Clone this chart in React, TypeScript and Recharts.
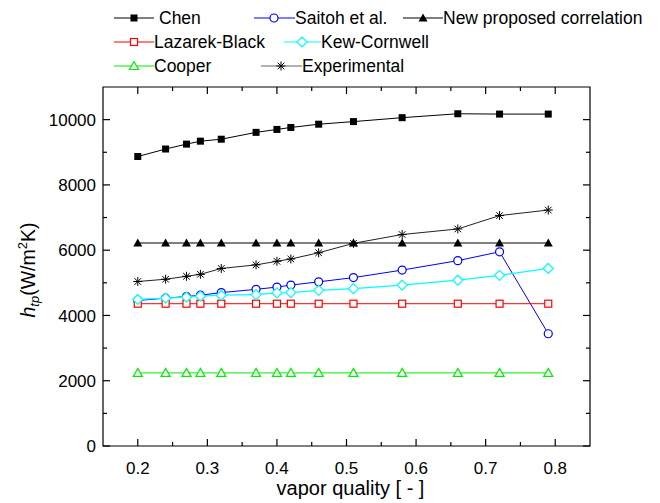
import { LineChart, Line, XAxis, YAxis, ReferenceLine, ReferenceArea } from 'recharts';

// vapor quality values (x) and heat transfer coefficients (W/m2K)
const quality = [0.2, 0.24, 0.27, 0.29, 0.32, 0.37, 0.4, 0.42, 0.46, 0.51, 0.58, 0.66, 0.72, 0.79];
const chen = [8870, 9100, 9250, 9340, 9400, 9610, 9700, 9760, 9860, 9940, 10060, 10180, 10170, 10170];
const saitoh = [4460, 4530, 4580, 4620, 4700, 4800, 4870, 4930, 5030, 5160, 5390, 5680, 5950, 3440];
const newProposed = [6220, 6220, 6220, 6220, 6220, 6220, 6220, 6220, 6220, 6220, 6220, 6220, 6220, 6220];
const lazarekBlack = [4360, 4360, 4360, 4360, 4360, 4360, 4360, 4360, 4360, 4360, 4360, 4360, 4360, 4360];
const kewCornwell = [4490, 4530, 4560, 4590, 4620, 4640, 4690, 4700, 4770, 4820, 4930, 5080, 5230, 5440];
const cooper = [2240, 2240, 2240, 2240, 2240, 2240, 2240, 2240, 2240, 2240, 2240, 2240, 2240, 2240];
const experimental = [5040, 5110, 5200, 5260, 5440, 5550, 5660, 5730, 5920, 6210, 6480, 6650, 7060, 7230];

// ticks
const xMajorTicks = [0.2, 0.3, 0.4, 0.5, 0.6, 0.7, 0.8];
const xTickLabels = ['0.2', '0.3', '0.4', '0.5', '0.6', '0.7', '0.8'];
const xMinorTicks = [0.25, 0.35, 0.45, 0.55, 0.65, 0.75];
const yMajorTicks = [0, 2000, 4000, 6000, 8000, 10000];
const yTickLabels = ['0', '2000', '4000', '6000', '8000', '10000'];
const yMinorTicks = [1000, 3000, 5000, 7000, 9000];

const X_DOMAIN = [0.15, 0.85];
const Y_DOMAIN = [0, 11000];

const data = quality.map((q, i) => ({
  q,
  chen: chen[i],
  saitoh: saitoh[i],
  newProposed: newProposed[i],
  lazarekBlack: lazarekBlack[i],
  kewCornwell: kewCornwell[i],
  cooper: cooper[i],
  experimental: experimental[i],
}));

const FONT = '"Liberation Sans", Arial, sans-serif';
const MAJOR = 7;
const MINOR = 4;

type Marker = 'squareFilled' | 'circleOpen' | 'triangleFilled' | 'squareOpen' | 'diamondOpen' | 'triangleOpen' | 'asterisk';

const series: { key: string; name: string; color: string; lineColor: string; width: number; marker: Marker }[] = [
  { key: 'chen', name: 'Chen', color: '#000000', lineColor: '#000000', width: 1, marker: 'squareFilled' },
  { key: 'saitoh', name: 'Saitoh et al.', color: '#0000ff', lineColor: '#0000ff', width: 1, marker: 'circleOpen' },
  { key: 'newProposed', name: 'New proposed correlation', color: '#000000', lineColor: '#808080', width: 2, marker: 'triangleFilled' },
  { key: 'lazarekBlack', name: 'Lazarek-Black', color: '#ff0000', lineColor: '#ff0000', width: 1, marker: 'squareOpen' },
  { key: 'kewCornwell', name: 'Kew-Cornwell', color: '#00ffff', lineColor: '#00ffff', width: 1.2, marker: 'diamondOpen' },
  { key: 'cooper', name: 'Cooper', color: '#00ee00', lineColor: '#00ee00', width: 1, marker: 'triangleOpen' },
  { key: 'experimental', name: 'Experimental', color: '#000000', lineColor: '#222222', width: 1, marker: 'asterisk' },
];

// legend placement (Origin style, three rows)
const legendLayout: Record<string, { x1: number; x2: number; mx: number; tx: number; row: number; line: string }> = {
  chen: { x1: 114, x2: 154, mx: 134, tx: 159, row: 0, line: '#000' },
  saitoh: { x1: 254, x2: 295, mx: 274, tx: 295, row: 0, line: '#0000ff' },
  newProposed: { x1: 403, x2: 443, mx: 423, tx: 443, row: 0, line: '#000' },
  lazarekBlack: { x1: 114, x2: 154, mx: 134, tx: 154, row: 1, line: '#ff0000' },
  kewCornwell: { x1: 284, x2: 321, mx: 302, tx: 321, row: 1, line: '#00ffff' },
  cooper: { x1: 114, x2: 154, mx: 134, tx: 154, row: 2, line: '#00ee00' },
  experimental: { x1: 261, x2: 302, mx: 281, tx: 302, row: 2, line: '#666' },
};
const legendRows = [18, 42, 66];

function drawMarker(kind: Marker, cx: number, cy: number, color: string, key?: string) {
  switch (kind) {
    case 'squareFilled':
      return <rect key={key} x={cx - 3.5} y={cy - 3.5} width={7} height={7} fill={color} />;
    case 'circleOpen':
      return <circle key={key} cx={cx} cy={cy} r={4} fill="#fff" stroke={color} strokeWidth={1.2} />;
    case 'triangleFilled':
      return <polygon key={key} points={`${cx},${cy - 4.5} ${cx + 4.5},${cy + 3.5} ${cx - 4.5},${cy + 3.5}`} fill={color} />;
    case 'squareOpen':
      return <rect key={key} x={cx - 3.5} y={cy - 3.5} width={7} height={7} fill="#fff" stroke={color} strokeWidth={1.2} />;
    case 'diamondOpen':
      return <polygon key={key} points={`${cx},${cy - 5} ${cx + 5},${cy} ${cx},${cy + 5} ${cx - 5},${cy}`} fill="#fff" stroke={color} strokeWidth={1.2} />;
    case 'triangleOpen':
      return <polygon key={key} points={`${cx},${cy - 4.5} ${cx + 4.5},${cy + 3.5} ${cx - 4.5},${cy + 3.5}`} fill="#fff" stroke={color} strokeWidth={1.2} />;
    case 'asterisk':
      return (
        <g key={key} stroke={color} strokeWidth={1}>
          <line x1={cx - 4.5} y1={cy} x2={cx + 4.5} y2={cy} />
          <line x1={cx} y1={cy - 4.5} x2={cx} y2={cy + 4.5} />
          <line x1={cx - 3.3} y1={cy - 3.3} x2={cx + 3.3} y2={cy + 3.3} />
          <line x1={cx - 3.3} y1={cy + 3.3} x2={cx + 3.3} y2={cy - 3.3} />
        </g>
      );
  }
}

// inward ticks on both ends of a reference line (Origin style frame ticks)
const vTicks = (p: any, len: number) => {
  const top = Math.min(p.y1, p.y2);
  const bottom = Math.max(p.y1, p.y2);
  return (
    <g stroke="#000" strokeWidth={1.2}>
      <line x1={p.x1} y1={bottom} x2={p.x1} y2={bottom - len} />
      <line x1={p.x1} y1={top} x2={p.x1} y2={top + len} />
    </g>
  );
};
const hTicks = (p: any, len: number) => {
  const left = Math.min(p.x1, p.x2);
  const right = Math.max(p.x1, p.x2);
  return (
    <g stroke="#000" strokeWidth={1.2}>
      <line x1={left} y1={p.y1} x2={left + len} y2={p.y1} />
      <line x1={right} y1={p.y1} x2={right - len} y2={p.y1} />
    </g>
  );
};

const BottomLabel = (props: any) => {
  const { x, y, payload } = props;
  const i = xMajorTicks.indexOf(payload.value);
  return (
    <text x={x} y={y + 28} textAnchor="middle" fontSize={17} fontFamily={FONT} fill="#000">
      {xTickLabels[i]}
    </text>
  );
};

const LeftLabel = (props: any) => {
  const { x, y, payload } = props;
  const i = yMajorTicks.indexOf(payload.value);
  return (
    <text x={x - 7} y={y} dy="0.36em" textAnchor="end" fontSize={17} fontFamily={FONT} fill="#000">
      {yTickLabels[i]}
    </text>
  );
};

const XTitle = (props: any) => {
  const { viewBox } = props;
  return (
    <text x={viewBox.x + viewBox.width / 2 + 4} y={viewBox.y + 49} textAnchor="middle" fontSize={20} fontFamily={FONT} fill="#000">
      vapor quality [ - ]
    </text>
  );
};

const YTitle = () => {
  const cx = 35;
  const cy = 270;
  return (
    <text x={cx} y={cy} transform={`rotate(-90 ${cx} ${cy})`} textAnchor="middle" fontSize={19.5} fontFamily={FONT} fill="#000">
      <tspan fontStyle="italic">h</tspan>
      <tspan fontStyle="italic" fontSize={13} dy={4}>tp</tspan>
      <tspan dy={-4}>(W/m</tspan>
      <tspan fontSize={13} dy={-8}>2</tspan>
      <tspan dy={8}>K)</tspan>
    </text>
  );
};

const LegendBox = () => (
  <svg width={660} height={80} style={{ position: 'absolute', left: 0, top: 0 }}>
    {series.map((s) => {
      const l = legendLayout[s.key];
      const y = legendRows[l.row];
      return (
        <g key={s.key}>
          <line x1={l.x1} y1={y} x2={l.x2} y2={y} stroke={l.line} strokeWidth={1.2} />
          {drawMarker(s.marker, l.mx, y, s.color)}
          <text x={l.tx} y={y} dy="0.36em" fontSize={17.5} fontFamily={FONT} fill="#000">
            {s.name}
          </text>
        </g>
      );
    })}
  </svg>
);

export default function App() {
  return (
    <div style={{ position: 'relative', marginLeft: -8, marginTop: -8, width: 660, height: 503, background: '#fff' }}>
      <LineChart width={660} height={503} data={data} margin={{ top: 87, right: 70, left: 0, bottom: 0 }}>
        <XAxis
          dataKey="q"
          type="number"
          domain={X_DOMAIN}
          ticks={xMajorTicks}
          interval={0}
          height={57}
          tickSize={0}
          tickMargin={0}
          tickLine={false}
          axisLine={false}
          tick={<BottomLabel />}
          allowDataOverflow
          label={<XTitle />}
        />
        <YAxis
          type="number"
          domain={Y_DOMAIN}
          ticks={yMajorTicks}
          interval={0}
          width={103}
          tickSize={0}
          tickMargin={0}
          tickLine={false}
          axisLine={false}
          tick={<LeftLabel />}
          allowDataOverflow
          label={<YTitle />}
        />
        <ReferenceArea
          x1={X_DOMAIN[0]}
          x2={X_DOMAIN[1]}
          y1={Y_DOMAIN[0]}
          y2={Y_DOMAIN[1]}
          fill="none"
          fillOpacity={0}
          stroke="#000"
          strokeWidth={1.2}
        />
        {xMajorTicks.map((t) => (
          <ReferenceLine key={`xM${t}`} x={t} shape={(p: any) => vTicks(p, MAJOR)} />
        ))}
        {xMinorTicks.map((t) => (
          <ReferenceLine key={`xm${t}`} x={t} shape={(p: any) => vTicks(p, MINOR)} />
        ))}
        {yMajorTicks.map((t) => (
          <ReferenceLine key={`yM${t}`} y={t} shape={(p: any) => hTicks(p, MAJOR)} />
        ))}
        {yMinorTicks.map((t) => (
          <ReferenceLine key={`ym${t}`} y={t} shape={(p: any) => hTicks(p, MINOR)} />
        ))}
        {series.map((s) => (
          <Line
            key={s.key}
            dataKey={s.key}
            name={s.name}
            type="linear"
            stroke={s.lineColor}
            strokeWidth={s.width}
            isAnimationActive={false}
            dot={(p: any) => drawMarker(s.marker, p.cx, p.cy, s.color, `${s.key}-${p.index}`) as any}
            activeDot={false}
          />
        ))}
      </LineChart>
      <LegendBox />
    </div>
  );
}
